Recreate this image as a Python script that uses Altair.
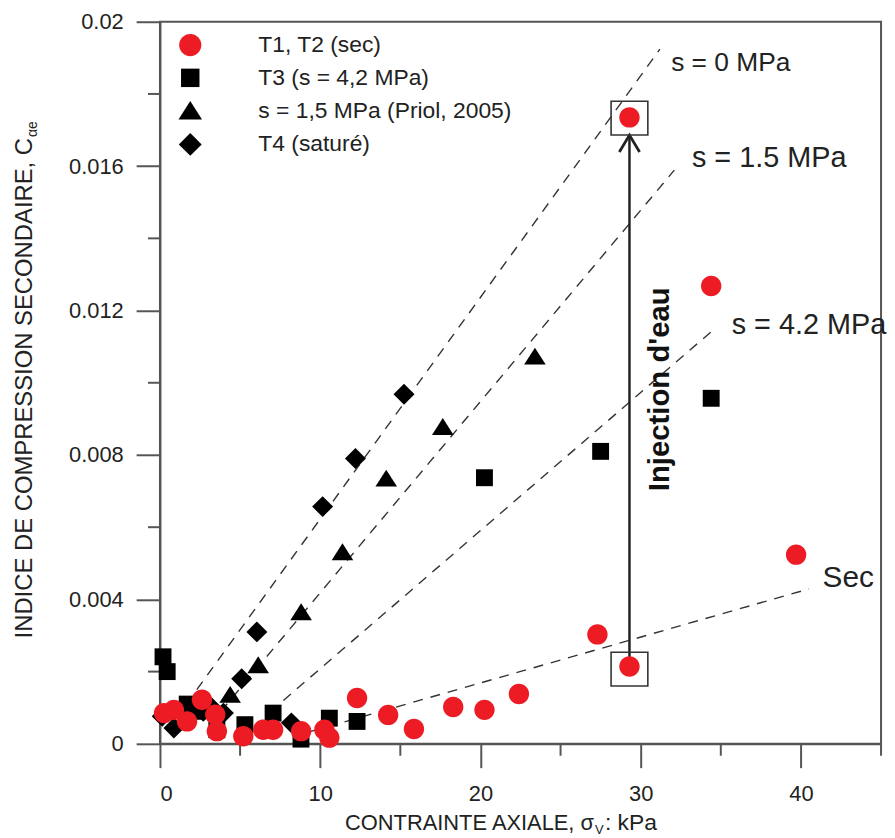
import altair as alt
import pandas as pd

FONT = "Liberation Sans"
RED = "#ed1c24"

SERIES = ["T1, T2 (sec)", "T3 (s = 4,2 MPa)", "s = 1,5 MPa (Priol, 2005)", "T4 (saturé)"]

# T1, T2 (sec)  - red circles
sec_x = [0.25, 0.87, 1.69, 2.62, 3.45, 3.55, 5.2, 6.44, 7.06, 8.81, 10.26, 10.57, 12.3,
         14.24, 15.85, 18.3, 20.25, 22.4, 27.3, 29.3, 29.3, 34.4, 39.7]
sec_y = [0.00085, 0.00094, 0.00062, 0.00122, 0.00081, 0.00035, 0.00021, 0.00039, 0.00039,
         0.00035, 0.00039, 0.00017, 0.00127, 0.00080, 0.00041, 0.00102, 0.00094, 0.00138,
         0.00303, 0.00214, 0.01735, 0.01268, 0.00524]
# T3 (s = 4,2 MPa) - squares
t3_x = [0.19, 0.45, 1.7, 2.3, 3.55, 5.3, 7.06, 8.8, 10.57, 12.3, 20.25, 27.5, 34.4]
t3_y = [0.00241, 0.0020, 0.0011, 0.0009, 0.00039, 0.00053, 0.00085, 0.00013, 0.00071,
        0.00062, 0.00737, 0.0081, 0.00957]
# s = 1,5 MPa (Priol, 2005) - triangles
pr_x = [4.38, 6.13, 8.81, 11.39, 14.12, 17.65, 23.4]
pr_y = [0.00136, 0.00218, 0.00365, 0.00531, 0.00735, 0.00878, 0.01073]
# T4 (saturé) - diamonds
t4_x = [0.14, 0.87, 2.7, 3.24, 3.96, 5.1, 6.05, 8.2, 10.15, 12.2, 15.23]
t4_y = [0.00076, 0.00044, 0.0009, 0.00099, 0.00085, 0.0018, 0.0031, 0.00058, 0.00657,
        0.0079, 0.00968]

# dashed trend lines
line_names = ["s = 0 MPa", "s = 1.5 MPa", "s = 4.2 MPa", "Sec"]
line_x1 = [2.3, 3.8, 7.7, 8.3]
line_y1 = [0.0015, 0.0009, 0.0012, 0.0002]
line_x2 = [31.2, 32.1, 34.6, 40.5]
line_y2 = [0.01924, 0.01589, 0.01149, 0.00429]

# line labels (anchored in data units)
lab_small = ["s = 0 MPa"]
lab_small_x = [31.9]
lab_small_y = [0.018625]
lab_big = ["s = 1.5 MPa", "s = 4.2 MPa"]
lab_big_x = [33.2, 35.68]
lab_big_y = [0.015983, 0.011362]
lab_sec = ["Sec"]
lab_sec_x = [41.35]
lab_sec_y = [0.004347]

# water injection arrow
arrow_x = [29.3]
arrow_y_from = [0.00214]
arrow_y_to = [0.01686]
box_x = [29.3, 29.3]
box_y = [0.01733, 0.00207]
inj_text = ["Injection d'eau"]
inj_x = [31.76]
inj_y = [0.009821]

x_major = [0, 10, 20, 30, 40]
x_minor = [5, 15, 25, 35, 45]
y_major = [0, 0.004, 0.008, 0.012, 0.016, 0.02]
y_minor = [0.002, 0.006, 0.010, 0.014, 0.018]

W, H = 726, 727

rows = []
for name, xs_, ys_ in [(SERIES[1], t3_x, t3_y), (SERIES[3], t4_x, t4_y),
                       (SERIES[2], pr_x, pr_y), (SERIES[0], sec_x, sec_y)]:
    for a, b in zip(xs_, ys_):
        rows.append({"x": a, "y": b, "serie": name})
pts = pd.DataFrame(rows)

xs = alt.Scale(domain=[0, 45], nice=False, zero=False)
ys = alt.Scale(domain=[0, 0.02], nice=False, zero=False)
x_axis = alt.Axis(values=x_major, format="d", title=None, tickSize=24, labelPadding=16)
y_axis = alt.Axis(values=y_major, format=".3~f", title=None, tickSize=24, labelPadding=13)


def X(f, **kw):
    return alt.X(f, type="quantitative", scale=xs, axis=x_axis, **kw)


def Y(f, **kw):
    return alt.Y(f, type="quantitative", scale=ys, axis=y_axis, **kw)


CIRCLE = "M1,0A1,1,0,1,1,-1,0A1,1,0,1,1,1,0Z"
SQUARE = "M-0.83,-0.83L0.83,-0.83L0.83,0.83L-0.83,0.83Z"
TRIANGLE = "M0,-0.86L1.06,0.8L-1.06,0.8Z"
DIAMOND = "M0,-1.03L1.03,0L0,1.03L-1.03,0Z"

points = alt.Chart(pts).mark_point(filled=True, opacity=1, strokeWidth=0, size=420).encode(
    x=X("x"),
    y=Y("y"),
    color=alt.Color("serie:N", scale=alt.Scale(domain=SERIES, range=[RED, "#000", "#000", "#000"]),
                    legend=alt.Legend(orient="none", legendX=19, legendY=12, title=None,
                                      symbolSize=500, labelFontSize=23, labelFont=FONT,
                                      labelColor="#222", labelOffset=57, rowPadding=9,
                                      padding=0, symbolStrokeWidth=0, symbolOpacity=1,
                                      labelLimit=400)),
    shape=alt.Shape("serie:N", scale=alt.Scale(domain=SERIES,
                                               range=[CIRCLE, SQUARE, TRIANGLE, DIAMOND])),
)

minor_x = alt.Chart(pd.DataFrame({"v": x_minor})).mark_rule(color="#555", strokeWidth=2).encode(
    x=X("v"), y=alt.value(H), y2=alt.value(H + 12))
minor_y = alt.Chart(pd.DataFrame({"v": y_minor})).mark_rule(color="#555", strokeWidth=2).encode(
    y=Y("v"), x=alt.value(-12), x2=alt.value(0))

lines_df = pd.DataFrame({"name": line_names, "x1": line_x1, "y1": line_y1,
                         "x2": line_x2, "y2": line_y2})
lines = alt.Chart(lines_df).mark_rule(color="#333", strokeWidth=1.4, strokeDash=[10, 8]).encode(
    x=X("x1"), y=Y("y1"), x2="x2", y2="y2")

arrow_df = pd.DataFrame({"x": arrow_x, "y1": arrow_y_from, "y2": arrow_y_to})
shaft = alt.Chart(arrow_df).mark_rule(color="#222", strokeWidth=2.5).encode(
    x=X("x"), y=Y("y1"), y2="y2")
head = alt.Chart(arrow_df).mark_point(shape="M-0.6,1L0,0L0.6,1", size=1156, filled=False,
                                      color="#222", strokeWidth=2.8, opacity=1).encode(
    x=X("x"), y=Y("y2"))
boxes = alt.Chart(pd.DataFrame({"x": box_x, "y": box_y})).mark_point(
    shape="M-1,-0.92L1,-0.92L1,0.92L-1,0.92Z", size=1369, filled=False,
    color="#333", strokeWidth=1.6, opacity=1).encode(x=X("x"), y=Y("y"))

t_small = alt.Chart(pd.DataFrame({"t": lab_small, "x": lab_small_x, "y": lab_small_y})).mark_text(
    font=FONT, fontSize=26.5, align="left", baseline="alphabetic", color="#222").encode(
    x=X("x"), y=Y("y"), text="t:N")
t_big = alt.Chart(pd.DataFrame({"t": lab_big, "x": lab_big_x, "y": lab_big_y})).mark_text(
    font=FONT, fontSize=29, align="left", baseline="alphabetic", color="#222").encode(
    x=X("x"), y=Y("y"), text="t:N")
t_sec = alt.Chart(pd.DataFrame({"t": lab_sec, "x": lab_sec_x, "y": lab_sec_y})).mark_text(
    font=FONT, fontSize=30, align="left", baseline="alphabetic", color="#222").encode(
    x=X("x"), y=Y("y"), text="t:N")
t_inj = alt.Chart(pd.DataFrame({"t": inj_text, "x": inj_x, "y": inj_y})).mark_text(
    font=FONT, fontSize=29.5, fontWeight="bold", angle=270, align="center",
    baseline="alphabetic", color="#111").encode(x=X("x"), y=Y("y"), text="t:N")

one = pd.DataFrame({"k": [0]})
xt1 = alt.Chart(one).mark_text(text="CONTRAINTE AXIALE, σ", font=FONT, fontSize=22, align="right",
                               baseline="alphabetic", color="#222").encode(
    x=alt.value(437), y=alt.value(814))
xt2 = alt.Chart(one).mark_text(text="V", font=FONT, fontSize=13, align="left",
                               baseline="alphabetic", color="#222").encode(
    x=alt.value(438), y=alt.value(818))
xt3 = alt.Chart(one).mark_text(text=": kPa", font=FONT, fontSize=23, align="left",
                               baseline="alphabetic", color="#222").encode(
    x=alt.value(448), y=alt.value(814))
yt1 = alt.Chart(one).mark_text(text="INDICE DE COMPRESSION SECONDAIRE, C", font=FONT, fontSize=24,
                               angle=270, align="right", baseline="alphabetic", color="#222").encode(
    x=alt.value(-129), y=alt.value(117))
yt2 = alt.Chart(one).mark_text(text="αe", font=FONT, fontSize=14, angle=270, align="left",
                               baseline="alphabetic", color="#222").encode(
    x=alt.value(-124), y=alt.value(116))

chart = alt.layer(
    minor_x, minor_y, lines, shaft, head, boxes, points, t_small, t_big, t_sec, t_inj,
    xt1, xt2, xt3, yt1, yt2
).properties(
    width=W, height=H,
    padding={"left": 153, "top": 11, "right": 6, "bottom": 92},
    autosize=alt.AutoSizeParams(type="none"),
    background="white",
).configure_view(
    stroke="#555", strokeWidth=2
).configure_axis(
    domainColor="#555", domainWidth=2, tickColor="#555", tickWidth=2, grid=False,
    labelFont=FONT, labelFontSize=22, labelColor="#222"
)

chart.save("out.html", embed_options={"renderer": "svg", "actions": False})
